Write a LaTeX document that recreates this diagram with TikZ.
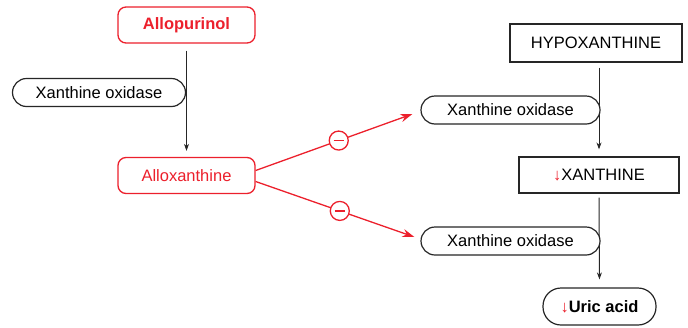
\documentclass[tikz,border=0pt]{standalone}
\usepackage{fontspec}
\setmainfont{Liberation Sans}
\usetikzlibrary{arrows.meta,calc}
\definecolor{inhred}{RGB}{236,32,44}
\tikzset{
  lbl/.style={font=\fontsize{16.5}{19}\selectfont, inner sep=0pt},
  redbox/.style={lbl, draw=inhred, line width=1.3pt, rounded corners=8pt, text=inhred,
                 minimum width=137pt, minimum height=36pt, fill=white},
  sqbox/.style={lbl, draw=black!85, line width=1.2pt, minimum height=38pt},
  pill/.style={lbl, draw=black!85, line width=1.2pt, rounded corners=14pt,
               minimum height=28pt, fill=white},
  flow/.style={draw=black!85, line width=1pt, -{Stealth[length=7pt,width=5pt]}},
  inhib/.style={draw=inhred, line width=1.3pt, -{Stealth[length=12pt,width=8pt]}},
  minuscirc/.style={circle, draw=inhred, line width=1.3pt, fill=white, minimum size=19pt,
                    inner sep=0pt,
                    path picture={\draw[-, inhred, line width=1.3pt]
                      ([xshift=-5pt]path picture bounding box.center) --
                      ([xshift=5pt]path picture bounding box.center);}},
}
\newcommand{\dn}{\textcolor{inhred}{↓}}
\begin{document}
\begin{tikzpicture}[x=1pt,y=-1pt]
\useasboundingbox (0,0) rectangle (688,327);

% left branch: allopurinol is oxidised to alloxanthine
\node[redbox, font=\fontsize{16.5}{19}\selectfont\bfseries] (allo) at (186.5,25) {Allopurinol};
\node[redbox] (allox) at (186.5,175.5) {Alloxanthine};
\draw[flow, shorten <=7pt, shorten >=6pt] (allo.south) -- (allox.north);
\node[pill, minimum width=173pt] (xoL) at (99,92.5) {Xanthine oxidase};

% right branch: purine catabolism
\node[sqbox, minimum width=172pt] (hypo) at (596,43) {HYPOXANTHINE};
\node[sqbox, minimum width=160pt, minimum height=36pt] (xan) at (599,175) {\dn XANTHINE};
\node[pill, minimum width=113pt, minimum height=37pt, rounded corners=18pt,
      font=\fontsize{16.5}{19}\selectfont\bfseries] (uric) at (599.5,306.5) {\dn Uric acid};
\draw[flow, shorten <=5pt, shorten >=7pt] (hypo.south -| xan.north) -- (xan.north);
\draw[flow, shorten <=4pt, shorten >=8pt] (xan.south) -- (uric.north);
\node[pill, minimum width=179pt] (xo1) at (510.5,110) {Xanthine oxidase};
\node[pill, minimum width=179pt] (xo2) at (510.5,241) {Xanthine oxidase};

% inhibition by alloxanthine
\draw[inhib] ($(allox.east)+(0,-5)$) -- node[minuscirc, pos=0.53] (m1) {} ($(xo1.west)+(-8,4)$);
\draw[inhib] ($(allox.east)+(0,6)$) -- node[minuscirc, pos=0.53] (m2) {} ($(xo2.west)+(-6,-4)$);
\end{tikzpicture}
\end{document}
